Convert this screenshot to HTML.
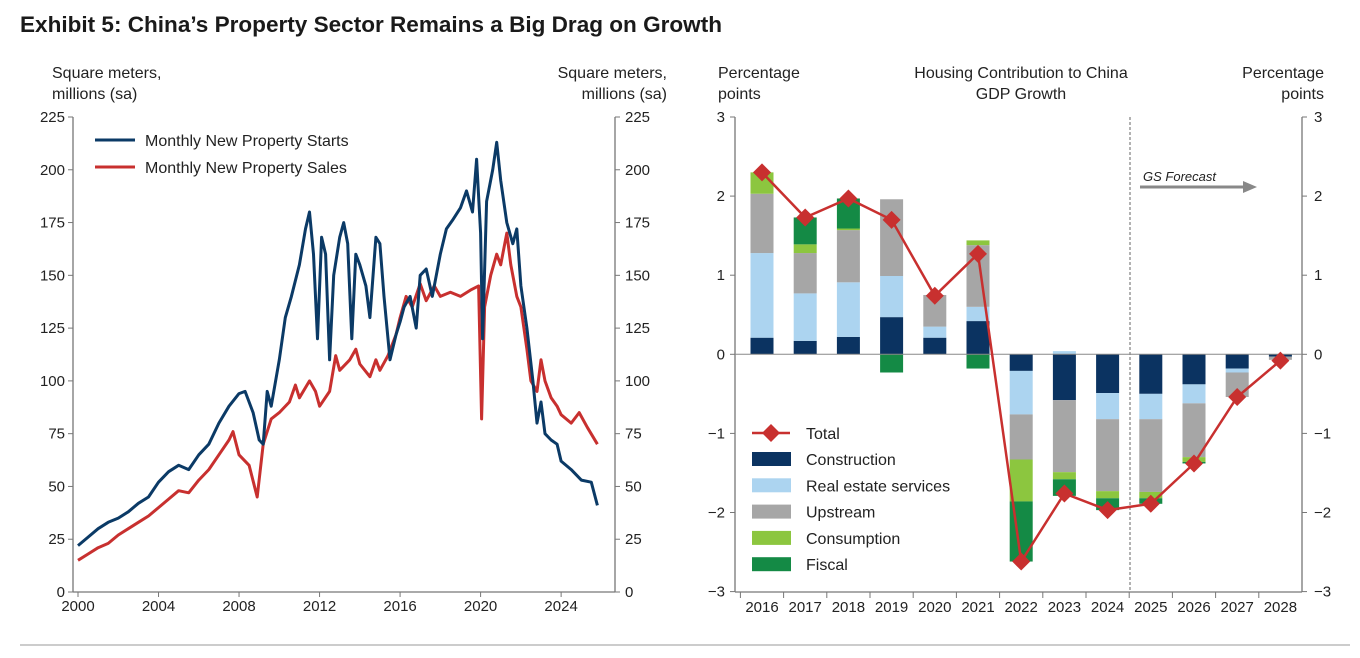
<!DOCTYPE html>
<html><head><meta charset="utf-8">
<style>
body{margin:0;background:#fff;}
svg{display:block;font-family:"Liberation Sans",Arial,sans-serif;}
</style></head>
<body>
<svg id="svg" width="1360" height="658" viewBox="0 0 1360 658" xmlns="http://www.w3.org/2000/svg">
<text x="20" y="32" font-family="'Liberation Sans Narrow','Liberation Sans',sans-serif" font-weight="bold" font-size="22" fill="#1a1a1a" textLength="702" lengthAdjust="spacingAndGlyphs">Exhibit 5: China’s Property Sector Remains a Big Drag on Growth</text>
<line x1="20" y1="645" x2="1350" y2="645" stroke="#999" stroke-width="1"/>
<g id="left"></g>
<g id="right"></g>
</svg>
<script>
// ---------- Left chart data ----------
const startsT=[2000,2000.5,2001,2001.5,2002,2002.5,2003,2003.5,2004,2004.5,2005,2005.5,2006,2006.5,2007,2007.5,2008,2008.3,2008.7,2009,2009.2,2009.4,2009.6,2010,2010.3,2010.6,2011,2011.3,2011.5,2011.7,2011.9,2012.1,2012.3,2012.5,2012.7,2013,2013.2,2013.4,2013.6,2013.8,2014,2014.3,2014.5,2014.8,2015,2015.2,2015.5,2015.8,2016,2016.2,2016.5,2016.8,2017,2017.3,2017.6,2018,2018.3,2018.6,2019,2019.3,2019.6,2019.8,2020,2020.1,2020.3,2020.6,2020.8,2021,2021.3,2021.6,2021.8,2022,2022.3,2022.6,2022.8,2023,2023.2,2023.5,2023.8,2024,2024.5,2025,2025.5,2025.8];
const startsV=[22,26,30,33,35,38,42,45,52,57,60,58,65,70,80,88,94,95,85,72,70,95,88,110,130,140,155,172,180,160,120,168,160,110,150,168,175,165,120,160,155,145,130,168,165,140,110,122,128,135,140,125,150,153,140,160,172,176,182,190,180,205,170,120,185,200,213,195,175,165,172,145,125,100,80,90,75,72,70,62,58,53,52,41];
const salesT=[2000,2000.5,2001,2001.5,2002,2002.5,2003,2003.5,2004,2004.5,2005,2005.5,2006,2006.5,2007,2007.5,2007.7,2008,2008.5,2008.9,2009.2,2009.6,2010,2010.5,2010.8,2011,2011.5,2011.8,2012,2012.5,2012.8,2013,2013.5,2013.8,2014,2014.5,2014.8,2015,2015.4,2015.8,2016,2016.3,2016.6,2017,2017.3,2017.7,2018,2018.5,2019,2019.5,2019.9,2020.05,2020.2,2020.5,2020.8,2021,2021.3,2021.5,2021.8,2022,2022.3,2022.5,2022.8,2023,2023.2,2023.5,2023.8,2024,2024.5,2024.9,2025.3,2025.8];
const salesV=[15,18,21,23,27,30,33,36,40,44,48,47,53,58,65,72,76,65,60,45,70,82,85,90,98,92,100,95,88,95,112,105,110,115,108,102,110,105,112,122,130,140,135,146,138,145,140,142,140,143,145,82,135,150,160,155,170,155,140,135,115,100,95,110,100,92,88,84,80,85,78,70];
const leftTicks=[0,25,50,75,100,125,150,175,200,225];
const xTicks=[2000,2004,2008,2012,2016,2020,2024];
// ---------- Right chart data ----------
const years=["2016","2017","2018","2019","2020","2021","2022","2023","2024","2025","2026","2027","2028"];
const construction=[0.21,0.17,0.22,0.47,0.21,0.42,-0.21,-0.58,-0.49,-0.50,-0.38,-0.18,-0.03];
const realEstate=[1.07,0.60,0.69,0.52,0.14,0.18,-0.55,0.04,-0.33,-0.32,-0.24,-0.05,0];
const upstream=[0.75,0.51,0.66,0.97,0.40,0.78,-0.57,-0.91,-0.91,-0.92,-0.68,-0.31,-0.04];
const consumption=[0.27,0.11,0.02,0,0,0.06,-0.53,-0.09,-0.09,-0.08,-0.06,0,0];
const fiscal=[0,0.34,0.38,-0.23,0,-0.18,-0.76,-0.21,-0.15,-0.07,-0.02,0,0];
const total=[2.30,1.73,1.97,1.70,0.74,1.27,-2.62,-1.76,-1.97,-1.89,-1.38,-0.54,-0.08];
const rightTicks=[-3,-2,-1,0,1,2,3];

const NS="http://www.w3.org/2000/svg";
function mk(parent,tag,attrs,text){const e=document.createElementNS(NS,tag);for(const k in attrs)e.setAttribute(k,attrs[k]);if(text!==undefined)e.textContent=text;parent.appendChild(e);return e;}

// ---------- Left chart ----------
const L=document.getElementById('left');
const lx0=73,lx1=615,ly0=117,ly1=592;
const xS=t=>78+(t-2000)*20.13;
const yS=v=>ly1-(v/225)*(ly1-ly0);
let e;
e=mk(L,'line',{x1:lx0,y1:ly0,x2:lx0,y2:ly1,stroke:'#777','stroke-width':1.3});


e=mk(L,'line',{x1:lx1,y1:ly0,x2:lx1,y2:ly1,stroke:'#777','stroke-width':1.3});


e=mk(L,'line',{x1:lx0,y1:ly1,x2:lx1,y2:ly1,stroke:'#777','stroke-width':1.3});


leftTicks.forEach(v=>{
  const y=yS(v);
  mk(L,'line',{x1:lx0-5,y1:y,x2:lx0,y2:y,stroke:'#777'});
  mk(L,'line',{x1:lx1,y1:y,x2:lx1+5,y2:y,stroke:'#777'});
  e=mk(L,'text',{x:lx0-8,y:y+5,'text-anchor':'end','font-size':15,fill:'#222'},String(v));
  
  
  e=mk(L,'text',{x:lx1+10,y:y+5,'font-size':15,fill:'#222'},String(v));
  
  
});
xTicks.forEach(t=>{
  const x=xS(t);
  mk(L,'line',{x1:x,y1:ly1,x2:x,y2:ly1+5,stroke:'#777'});
  e=mk(L,'text',{x:x,y:ly1+19,'text-anchor':'middle','font-size':15,fill:'#222'},String(t));
  
  
});
e=mk(L,'text',{x:52,y:78,'font-size':16,fill:'#222'},'Square meters,');


mk(L,'text',{x:52,y:99,'font-size':16,fill:'#222'},'millions (sa)');
e=mk(L,'text',{x:667,y:78,'font-size':16,fill:'#222','text-anchor':'end'},'Square meters,');


mk(L,'text',{x:667,y:99,'font-size':16,fill:'#222','text-anchor':'end'},'millions (sa)');
function line(T,V,col,name){
  const d=T.map((t,i)=>(i?'L':'M')+xS(t).toFixed(1)+','+yS(V[i]).toFixed(1)).join(' ');
  const p=mk(L,'path',{d:d,fill:'none',stroke:col,'stroke-width':3,'stroke-linejoin':'round'});
  
  
}
line(salesT,salesV,'#c8302f','sales-line');
line(startsT,startsV,'#0b3a66','starts-line');
e=mk(L,'line',{x1:95,y1:140,x2:135,y2:140,stroke:'#0b3a66','stroke-width':3});


e=mk(L,'text',{x:145,y:146,'font-size':16,fill:'#222'},'Monthly New Property Starts');


e=mk(L,'line',{x1:95,y1:167,x2:135,y2:167,stroke:'#c8302f','stroke-width':3});


e=mk(L,'text',{x:145,y:173,'font-size':16,fill:'#222'},'Monthly New Property Sales');



// ---------- Right chart ----------
const R=document.getElementById('right');
const rx0=735,rx1=1302,ry0=117,ry1=592;
const ryS=v=>354.3-v*79.1;
const rxS=i=>762+i*43.2;
const bw=23;
e=mk(R,'line',{x1:rx0,y1:ry0,x2:rx0,y2:ry1,stroke:'#777','stroke-width':1.3});


e=mk(R,'line',{x1:rx1,y1:ry0,x2:rx1,y2:ry1,stroke:'#777','stroke-width':1.3});


e=mk(R,'line',{x1:rx0,y1:ry1,x2:rx1,y2:ry1,stroke:'#777','stroke-width':1.3});


rightTicks.forEach(v=>{
  const y=ryS(v);
  mk(R,'line',{x1:rx0-5,y1:y,x2:rx0,y2:y,stroke:'#777'});
  mk(R,'line',{x1:rx1,y1:y,x2:rx1+5,y2:y,stroke:'#777'});
  const lab=v<0?'\u22121'.replace('1',String(-v)):String(v);
  e=mk(R,'text',{x:rx0-10,y:y+5,'text-anchor':'end','font-size':15,fill:'#222'},lab);
  
  
  e=mk(R,'text',{x:rx1+12,y:y+5,'font-size':15,fill:'#222'},lab);
  
  
});
years.forEach((yr,i)=>{
  const x=rxS(i);
  mk(R,'line',{x1:x-21.6,y1:ry1,x2:x-21.6,y2:ry1+6,stroke:'#777'});
  e=mk(R,'text',{x:x,y:ry1+20,'text-anchor':'middle','font-size':15,fill:'#222'},yr);
  
  
});
e=mk(R,'line',{x1:1130,y1:ry0,x2:1130,y2:ry1,stroke:'#666','stroke-dasharray':'3,2'});


const series=[[construction,'#0b3361','construction'],[realEstate,'#acd4f0','real-estate'],[upstream,'#a6a6a6','upstream'],[consumption,'#8cc63f','consumption'],[fiscal,'#148a45','fiscal']];
years.forEach((yr,i)=>{
  let pos=0,neg=0;
  series.forEach(([arr,col,nm])=>{
    const v=arr[i]; if(!v) return;
    let a,b;
    if(v>0){a=pos;b=pos+v;pos=b;}else{a=neg;b=neg+v;neg=b;}
    const r=mk(R,'rect',{x:rxS(i)-bw/2,y:Math.min(ryS(a),ryS(b)),width:bw,height:Math.abs(ryS(a)-ryS(b)),fill:col});
    
    
  });
});
e=mk(R,'line',{x1:rx0,y1:ryS(0),x2:rx1,y2:ryS(0),stroke:'#888','stroke-width':1});


e=mk(R,'path',{d:total.map((v,i)=>(i?'L':'M')+rxS(i).toFixed(1)+','+ryS(v).toFixed(1)).join(' '),fill:'none',stroke:'#c8302f','stroke-width':2.5});


total.forEach((v,i)=>{
  const x=rxS(i),y=ryS(v);
  const m=mk(R,'path',{d:`M${x},${y-9}L${x+9},${y}L${x},${y+9}L${x-9},${y}Z`,fill:'#c8302f'});
  
  
});
e=mk(R,'text',{x:718,y:78,'font-size':16,fill:'#222'},'Percentage');


mk(R,'text',{x:718,y:99,'font-size':16,fill:'#222'},'points');
e=mk(R,'text',{x:1324,y:78,'font-size':16,fill:'#222','text-anchor':'end'},'Percentage');


mk(R,'text',{x:1324,y:99,'font-size':16,fill:'#222','text-anchor':'end'},'points');
e=mk(R,'text',{x:1021,y:78,'font-size':16,fill:'#222','text-anchor':'middle'},'Housing Contribution to China');


mk(R,'text',{x:1021,y:99,'font-size':16,fill:'#222','text-anchor':'middle'},'GDP Growth');
e=mk(R,'text',{x:1143,y:181,'font-size':13,'font-style':'italic',fill:'#222'},'GS Forecast');


e=mk(R,'path',{d:'M1140,187 H1243',stroke:'#888','stroke-width':3});


mk(R,'path',{d:'M1243,181 L1257,187 L1243,193 Z',fill:'#888'});
// legend
e=mk(R,'line',{x1:752,y1:433,x2:790,y2:433,stroke:'#c8302f','stroke-width':2.5});


mk(R,'path',{d:'M771,424L780,433L771,442L762,433Z',fill:'#c8302f'});
e=mk(R,'text',{x:806,y:439,'font-size':16,fill:'#222'},'Total');


const legNames=['Construction','Real estate services','Upstream','Consumption','Fiscal'];
series.forEach(([arr,col,nm],k)=>{
  const y=459+k*26.3;
  const r=mk(R,'rect',{x:752,y:y-7,width:39,height:14,fill:col});
  
  
  const t=mk(R,'text',{x:806,y:y+6,'font-size':16,fill:'#222'},legNames[k]);
  
  
});
</script>
</body></html>
